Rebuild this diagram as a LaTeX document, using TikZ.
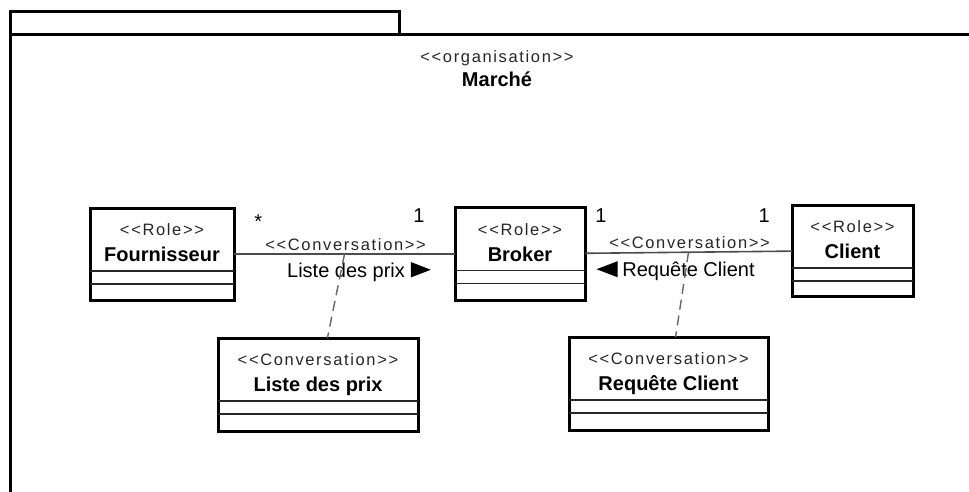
\documentclass[tikz,border=0pt]{standalone}
\usepackage{fontspec}
\setmainfont{Liberation Sans}
\newfontfamily\stereofont[LetterSpace=10]{Liberation Sans}
\usetikzlibrary{calc}

\newcommand{\stereotype}[1]{<{}<#1>{}>}

\tikzset{
  umlbox/.style={draw=black, line width=3pt, fill=white, inner sep=0pt, outer sep=0pt},
  compart/.style={draw=black!85, line width=1.6pt},
  stereo/.style={anchor=base, inner sep=0pt, text=black!85, font=\stereofont\fontsize{16.5}{18}\selectfont},
  clsname/.style={anchor=base, inner sep=0pt, font=\fontsize{20}{24}\selectfont\bfseries},
  lbl/.style={anchor=base, inner sep=0pt, font=\fontsize{20}{24}\selectfont},
  assoc/.style={draw=black!70, line width=1.6pt},
  convlink/.style={draw=black!60, line width=1.4pt, dash pattern=on 10pt off 6pt},
}

\begin{document}
\begin{tikzpicture}[x=1pt, y=-1pt]
  \useasboundingbox (0,0) rectangle (969,492);
  % Paquetage Marche
  \draw[line width=3pt] (10,35) rectangle (399,12);
  \draw[line width=3pt] (10,492) -- (10,35) -- (969,35);
  \node[stereo] (pkg-st) at (497,63) {\stereotype{organisation}};
  \node[clsname] (pkg-nm) at (497,87) {Marché};

  % Roles
  \node[umlbox, minimum width=144, minimum height=92] (fourn) at (162,254) {};
  \node[stereo] (fourn-st) at ([yshift=-27.5pt]fourn.north) {\stereotype{Role}};
  \node[clsname] (fourn-nm) at ([yshift=-53.5pt]fourn.north) {Fournisseur};
  \draw[compart] ([yshift=-63pt]fourn.north west) -- ([yshift=-63pt]fourn.north east)
                 ([yshift=-76pt]fourn.north west) -- ([yshift=-76pt]fourn.north east);

  \node[umlbox, minimum width=130, minimum height=93] (broker) at (520,254) {};
  \node[stereo] (broker-st) at ([yshift=-27.5pt]broker.north) {\stereotype{Role}};
  \node[clsname] (broker-nm) at ([yshift=-53.5pt]broker.north) {Broker};
  \draw[compart] ([yshift=-63pt]broker.north west) -- ([yshift=-63pt]broker.north east)
                 ([yshift=-76pt]broker.north west) -- ([yshift=-76pt]broker.north east);

  \node[umlbox, minimum width=121, minimum height=91] (client) at (852.5,250.5) {};
  \node[stereo] (client-st) at ([yshift=-27.5pt]client.north) {\stereotype{Role}};
  \node[clsname] (client-nm) at ([yshift=-53.5pt]client.north) {Client};
  \draw[compart] ([yshift=-63pt]client.north west) -- ([yshift=-63pt]client.north east)
                 ([yshift=-76pt]client.north west) -- ([yshift=-76pt]client.north east);

  % Conversations
  \node[umlbox, minimum width=200, minimum height=93] (liste) at (318,384.5) {};
  \node[stereo] (liste-st) at ([yshift=-27.5pt]liste.north) {\stereotype{Conversation}};
  \node[clsname] (liste-nm) at ([yshift=-53.5pt]liste.north) {Liste des prix};
  \draw[compart] ([yshift=-63pt]liste.north west) -- ([yshift=-63pt]liste.north east)
                 ([yshift=-76pt]liste.north west) -- ([yshift=-76pt]liste.north east);

  \node[umlbox, minimum width=199, minimum height=93] (requete) at (668.5,383.5) {};
  \node[stereo] (requete-st) at ([yshift=-27.5pt]requete.north) {\stereotype{Conversation}};
  \node[clsname] (requete-nm) at ([yshift=-53.5pt]requete.north) {Requête Client};
  \draw[compart] ([yshift=-63pt]requete.north west) -- ([yshift=-63pt]requete.north east)
                 ([yshift=-76pt]requete.north west) -- ([yshift=-76pt]requete.north east);

  % Associations
  \draw[assoc] (fourn) -- (broker)
    node[lbl, pos=0.11, yshift=26pt] (mult-fourn) {*}
    node[lbl, pos=0.837, yshift=32pt] (mult-broker-a) {1}
    node[stereo, pos=0.505, yshift=4pt] (conv-prix) {\stereotype{Conversation}}
    node[lbl, pos=0.507, yshift=-23pt] (msg-prix) {Liste des prix};
  \fill ([xshift=5pt,yshift=-0.5pt]msg-prix.base east) -- ([xshift=5pt,yshift=15pt]msg-prix.base east)
    -- ([xshift=25pt,yshift=7.25pt]msg-prix.base east) -- cycle;

  \draw[assoc] (broker) -- (client)
    node[lbl, pos=0.077, yshift=31pt] (mult-broker-b) {1}
    node[lbl, pos=0.865, yshift=28.5pt] (mult-client) {1}
    node[stereo, pos=0.505, yshift=4pt] (conv-req) {\stereotype{Conversation}}
    node[lbl, pos=0.5, yshift=-24.5pt] (msg-req) {Requête Client};
  \fill ([xshift=-4pt,yshift=-0.5pt]msg-req.base west) -- ([xshift=-4pt,yshift=15.5pt]msg-req.base west)
    -- ([xshift=-25pt,yshift=7.5pt]msg-req.base west) -- cycle;

  % Liens vers les conversations
  \coordinate (mid-prix) at ($(fourn.east)!0.5!(broker.west)$);
  \coordinate (mid-req) at ($(broker.east)!0.5!(client.west)$);
  \draw[convlink] (mid-prix) -- (liste);
  \draw[convlink] (mid-req) -- (requete);
\end{tikzpicture}
\end{document}
